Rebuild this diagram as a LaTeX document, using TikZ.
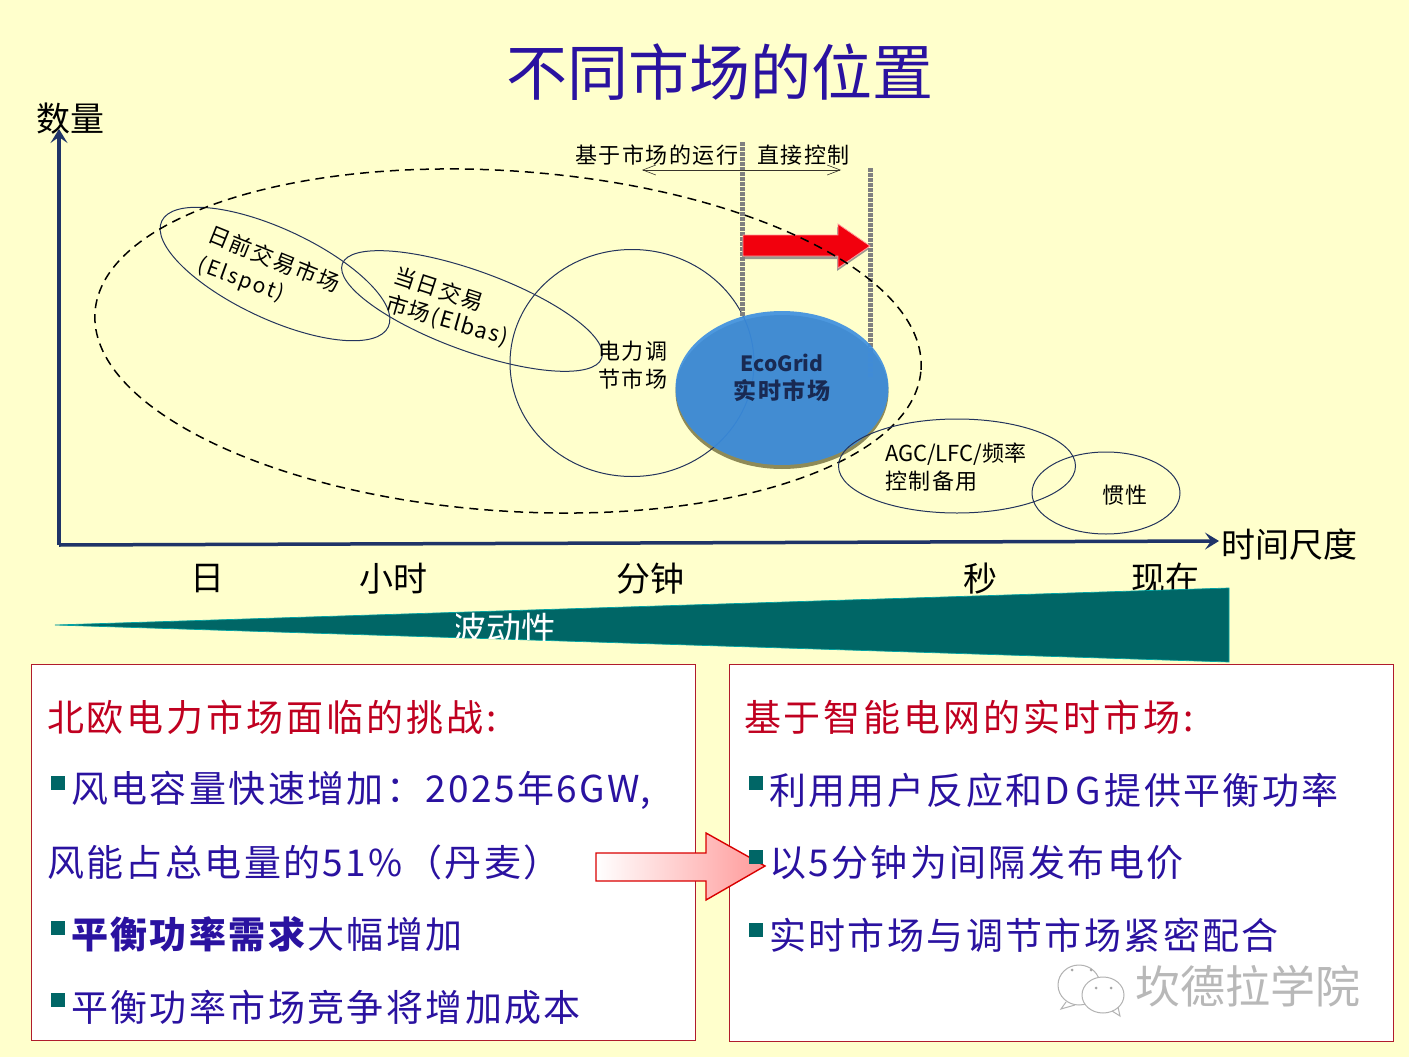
\documentclass[tikz,border=0pt]{standalone}
\usepackage{fontspec}
\setmainfont{Noto Sans CJK SC}
\newfontfamily\bodyfont[LetterSpace=6.5]{Noto Sans CJK SC}
\newfontfamily\headfont[LetterSpace=8]{Noto Sans CJK SC}
\newfontfamily\tagfont[LetterSpace=7]{Noto Sans CJK SC}
\newfontfamily\widefont[LetterSpace=10]{Noto Sans CJK SC}
\usetikzlibrary{shadows}
\usetikzlibrary{positioning}
\usetikzlibrary{arrows.meta,shapes.geometric}
\usetikzlibrary{calc}

\definecolor{paper}{HTML}{FFFFCC}
\definecolor{navy}{HTML}{1F3468}
\definecolor{ink}{HTML}{2A12A0}
\definecolor{deepred}{HTML}{C00020}
\definecolor{boxline}{HTML}{B01C2C}
\definecolor{teal}{HTML}{006666}
\definecolor{ecoblue}{HTML}{3A8DE0}
\definecolor{ringline}{HTML}{24345C}
\newcommand{\fs}[1]{\fontsize{#1}{#1}\selectfont}

\tikzset{
 lab/.style={inner sep=0pt, outer sep=0pt},
 ring/.style={ellipse, draw=ringline, line width=1pt, inner sep=0pt, outer sep=0pt},
 axisline/.style={draw=navy, line width=3.5pt, -{Stealth[length=14pt,width=17pt,inset=6pt]}},
 gridline/.style={draw=gray, line width=5pt, dash pattern=on 4pt off 1pt},
 panel/.style={draw=boxline, line width=1pt, fill=white},
 head/.style={lab, anchor=west, text=deepred, font=\headfont\fs{37}},
 body/.style={lab, anchor=west, text=ink, font=\bodyfont\fs{37}},
 bullet/.style={fill=teal, draw=none},
}

\begin{document}
\begin{tikzpicture}[x=1pt,y=-1pt]
 \useasboundingbox (0,0) rectangle (1409,1057);
 \fill[paper] (0,0) rectangle (1409,1057);

 %title
 \node[lab, text=ink, font=\fs{61}] (title) at (720,72) {不同市场的位置};

 %axes
 \coordinate (origin) at (59,545);
 \coordinate (ytip) at (59,129);
 \coordinate (xtip) at (1219,541);
 \draw[axisline] (origin) -- (ytip);
 \draw[axisline] (origin) -- (xtip);
 \node[lab, font=\fs{34}] (ylab) at (70,119) {数量};
 \node[lab, font=\fs{34}, anchor=west] (xlab) at (1221,545) {时间尺度};
 \foreach \x/\name in {207/日, 393/小时, 650/分钟, 980/秒, 1165/现在} {
  \node[lab, font=\fs{34}] (tick\x) at (\x,579) {\name};
 }

 %wedge
 \fill[teal, draw=teal!60!cyan, line width=.7pt] (55,625) -- (1229,588) -- (1229,662) -- cycle;
 \begin{scope}
  \clip (55,625) -- (1229,588) -- (1229,662) -- cycle;
  \clip (456,600) rectangle (558,660);
  \node[lab, text=white, font=\fs{35}] (wave) at (504,629) {波动性};
 \end{scope}

 %eco shadow
 \node[ellipse, fill=black!45!olive!70, inner sep=0pt, outer sep=0pt, minimum width=213, minimum height=154] (ecoshade) at (782,392) {};

 %markets
 \node[ring, minimum width=250, minimum height=90, rotate=-25] (spot) at (275,274) {};
 \node[ring, minimum width=276, minimum height=80, rotate=-20] (bas) at (472,311) {};
 \node[ring, minimum width=244, minimum height=227] (reg) at (632,363) {};

 %limits
 \coordinate (lima) at (742,142);
 \coordinate (limb) at (742,318);
 \coordinate (limc) at (870,168);
 \coordinate (limd) at (870,378);
 \draw[gridline] (lima) -- (limb);
 \draw[gridline] (limc) -- (limd);

 \node[lab, font=\tagfont\fs{22}, anchor=west] (mkt) at (575,155) {基于市场的运行};
 \node[lab, font=\tagfont\fs{22}, anchor=west] (ctrl) at (757,155) {直接控制};
 \coordinate (spana) at (642,170);
 \coordinate (spanb) at (841,170);
 \draw[draw=black!80!olive, line width=.6pt, {Straight Barb[length=13pt,width=10pt]}-{Straight Barb[length=13pt,width=10pt]}] (spana) -- (spanb);

 %red arrow
 \fill[red!95!blue, draw=red!40, line width=.8pt,
  drop shadow={shadow xshift=-1pt, shadow yshift=-3pt, fill=gray, opacity=.8}]
  (743,235) -- (838,235) -- (838,224) -- (870,246) -- (838,268) -- (838,256) -- (743,256) -- cycle;

 %market zone
 \node[ring, draw=black, line width=1.5pt, dash pattern=on 9pt off 6pt, minimum width=828, minimum height=340, rotate=-4] (zone) at (508,341) {};

 %eco market
 \node[ellipse, fill=ecoblue, fill opacity=.9, inner sep=0pt, outer sep=0pt, minimum width=213, minimum height=154] (eco) at (782,388) {};
 \node[lab, font=\bfseries\fs{21}, text=navy!80!black] (ecoa) at (782,363) {EcoGrid};
 \node[lab, font=\tagfont\bfseries\fs{23}, text=navy!80!black] (ecob) at (782,391) {实时市场};

 \node[ring, minimum width=237, minimum height=94] (agc) at (957,466) {};
 \node[ring, minimum width=148, minimum height=82] (inert) at (1106,493) {};

 %market labels
 \node[lab, font=\tagfont\fs{22}, rotate=-22] (spota) at (274,259) {日前交易市场};
 \node[lab, font=\widefont\fs{21}, rotate=-20] (spotb) at (241,280) {(Elspot)};
 \node[lab, font=\tagfont\fs{22}, rotate=-18] (basa) at (439,289) {当日交易};
 \node[lab, font=\tagfont\fs{22}, rotate=-16] (basb) at (447,321) {市场(Elbas)};
 \node[lab, font=\tagfont\fs{22}, anchor=west] (rega) at (598,351) {电力调};
 \node[lab, font=\tagfont\fs{22}, anchor=west] (regb) at (598,379) {节市场};
 \node[lab, font=\fs{22}, anchor=west] (agca) at (885,454) {AGC/LFC/频率};
 \node[lab, font=\tagfont\fs{22}, anchor=west] (agcb) at (885,481) {控制备用};
 \node[lab, font=\tagfont\fs{22}] (inertlab) at (1125,495) {惯性};

 %panels
 \draw[panel] (31,664) rectangle (695,1040);
 \draw[panel] (729,664) rectangle (1393,1041);

 %big arrow
 \draw[draw=red!85!black, line width=1.4pt, left color=white, right color=red!40]
  (596,853) -- (706,853) -- (706,833) -- (765,866) -- (706,900) -- (706,881) -- (596,881) -- cycle;

 %left panel
 \node[head] (lhead) at (47,717) {北欧电力市场面临的挑战:};
 \node[body] (lone) at (71,790) {风电容量快速增加：2025年6GW,};
 \node[body] (ltwo) at (47,862) {风能占总电量的51\%（丹麦）};
 \node[body] (lthree) at (71,934) {\textbf{平衡功率需求}大幅增加};
 \node[body] (lfour) at (71,1007) {平衡功率市场竞争将增加成本};
 \foreach \y in {783, 928, 1000} {
  \fill[bullet] (51,\y-7) rectangle (65,\y+7);
 }

 %right panel
 \node[head] (rhead) at (744,717) {基于智能电网的实时市场:};
 \node[body] (rone) at (769,790) {利用用户反应和D\kern5pt G\kern4pt 提供平衡功率};
 \node[body] (rtwo) at (769,863) {以5分钟为间隔发布电价};
 \node[body] (rthree) at (769,935) {实时市场与调节市场紧密配合};
 \foreach \y in {783, 857, 930} {
  \fill[bullet] (749,\y-7) rectangle (763,\y+7);
 }

 %watermark
 \begin{scope}[draw=black!30, fill=white, line width=1pt]
  \draw (1066,1002) -- (1061,1009) -- (1075,1005);
  \filldraw (1079,985) ellipse (21 and 20);
  \filldraw (1103,995) ellipse (21 and 18);
  \draw (1112,1011) -- (1120,1016) -- (1118,1007);
  \foreach \x/\y in {1072/970, 1091/970, 1096/988, 1111/988} {
   \fill[black!35] (\x,\y) circle (1.5);
  }
 \end{scope}
 \node[lab, text=black!28, font=\fs{45}, anchor=west] (mark) at (1135,986) {坎德拉学院};

\end{tikzpicture}
\end{document}
